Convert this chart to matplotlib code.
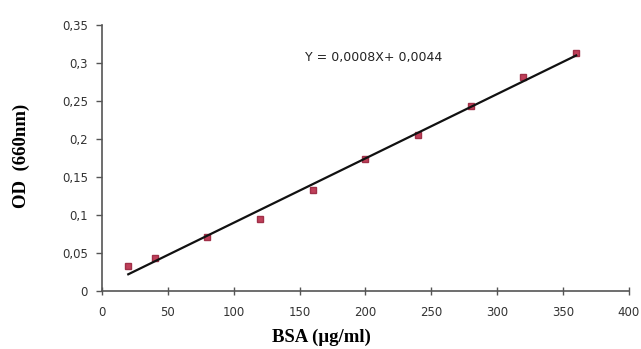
import numpy as np
import matplotlib
matplotlib.use("Agg")
import matplotlib.pyplot as plt
from matplotlib.ticker import FuncFormatter

# BSA standard curve
bsa = [20, 40, 80, 120, 160, 200, 240, 280, 320, 360]
od = [0.033, 0.043, 0.071, 0.095, 0.133, 0.174, 0.206, 0.243, 0.282, 0.313]
xticks = [0, 50, 100, 150, 200, 250, 300, 350, 400]
yticks = [0, 0.05, 0.1, 0.15, 0.2, 0.25, 0.3, 0.35]
equation = "Y = 0,0008X+ 0,0044"

slope, intercept = np.polyfit(bsa, od, 1)
fit = [slope * v + intercept for v in bsa]

fig = plt.figure(figsize=(6.41, 3.49), dpi=100)
ax = fig.add_axes([0.159, 0.166, 0.822, 0.762])

ax.plot(bsa, od, linestyle="none", marker="s", markersize=4,
        color="#c0405a", markeredgecolor="#a03048")
ax.plot(bsa, fit, color="#111111", linewidth=1.6)

ax.set_xlim(0, 400)
ax.set_ylim(0, 0.35)
ax.set_xticks(xticks)
ax.set_yticks(yticks)

comma = FuncFormatter(lambda v, p: ("%g" % v).replace(".", ","))
ax.xaxis.set_major_formatter(comma)
ax.yaxis.set_major_formatter(comma)

for s in ["top", "right"]:
    ax.spines[s].set_visible(False)
for s in ["left", "bottom"]:
    ax.spines[s].set_color("#555555")
    ax.spines[s].set_linewidth(1.2)

ax.tick_params(axis="x", direction="inout", length=6, width=1, colors="#555555",
               labelcolor="#333333", labelsize=8.5, pad=8)
ax.tick_params(axis="y", direction="out", length=4, width=1, colors="#555555",
               labelcolor="#333333", labelsize=8.5, pad=6)
for lab in ax.get_xticklabels() + ax.get_yticklabels():
    lab.set_family("DejaVu Sans")

ax.set_xlabel("BSA (µg/ml)", family="Liberation Serif", fontweight="bold",
              fontsize=13.5)
ax.xaxis.set_label_coords(0.417, -0.142)
ax.set_ylabel("OD  (660nm)", family="Liberation Serif", fontweight="bold",
              fontsize=13.5)
ax.yaxis.set_label_coords(-0.136, 0.51)

ax.text(0.385, 0.88, equation, transform=ax.transAxes, fontsize=9,
        family="DejaVu Sans", color="#222222", va="center")

fig.savefig("out.png", dpi=100)
